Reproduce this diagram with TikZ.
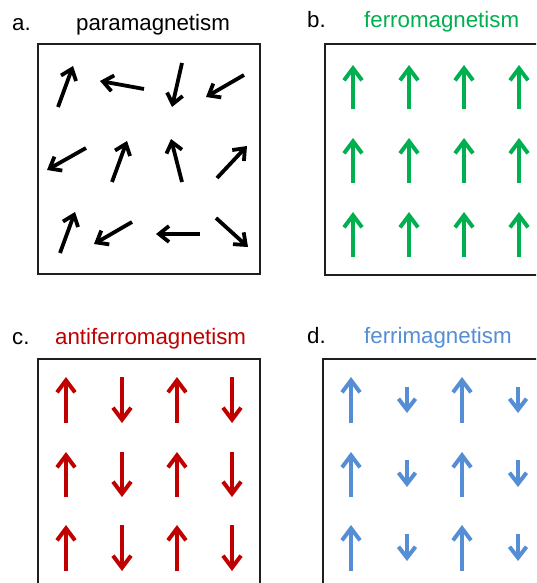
\documentclass[tikz,border=0pt]{standalone}
\usepackage{fontspec}
\setmainfont{Liberation Sans}
\usetikzlibrary{arrows.meta}
\definecolor{fgreen}{HTML}{00B050}
\definecolor{fred}{HTML}{C00000}
\definecolor{fblue}{HTML}{558ED5}
\tikzset{
  panelbox/.style={draw=black!88, line width=2pt},
  lbl/.style={anchor=base west, inner sep=0pt, font=\fontsize{22.3}{26}\selectfont},
  spin/.style={line width=3.8pt, -{Straight Barb[length=10pt,width=16pt]}},
  bigspin/.style={line width=4pt, -{Straight Barb[length=12pt,width=18pt]}},
  smallspin/.style={line width=4pt, -{Straight Barb[length=11pt,width=17pt]}},
}
\begin{document}
\begin{tikzpicture}[x=1pt,y=-1pt]
\clip (0,0) rectangle (536,583);
\fill[white] (0,0) rectangle (536,583);

% labels
\node[lbl] (la) at (12,31) {a.};
\node[lbl] (ta) at (76,31) {paramagnetism};
\node[lbl] (lb) at (307,28) {b.};
\node[lbl, text=fgreen] (tb) at (364,28) {ferromagnetism};
\node[lbl] (lc) at (12,344) {c.};
\node[lbl, text=fred] (tc) at (55,344) {antiferromagnetism};
\node[lbl] (ld) at (307,343) {d.};
\node[lbl, text=fblue] (td) at (364,343) {ferrimagnetism};

% boxes
\draw[panelbox] (38,44) rectangle (260,274);
\draw[panelbox] (325,44) rectangle (620,275);
\draw[panelbox] (38,359) rectangle (260,620);
\draw[panelbox] (323,359) rectangle (620,620);

% a. paramagnetism
\draw[spin] (58,107) -- (73,66);
\draw[spin] (144,89) -- (100,81);
\draw[spin] (182,63) -- (172,107);
\draw[spin] (244,75) -- (206,97);
\draw[spin] (86,148) -- (47,170);
\draw[spin] (112,182) -- (127,141);
\draw[spin] (182,182) -- (171,139);
\draw[spin] (217,178) -- (247,146);
\draw[spin] (60,253) -- (75,212);
\draw[spin] (132,222) -- (94,244);
\draw[spin] (200,234) -- (156,234);
\draw[spin] (216,218) -- (248,247);

% b. ferromagnetism
\foreach \x in {353,409,464,519}{
  \draw[bigspin, fgreen] (\x,109) -- (\x,65);
  \draw[bigspin, fgreen] (\x,183) -- (\x,138);
  \draw[bigspin, fgreen] (\x,257) -- (\x,212);
}

% c. antiferromagnetism
\foreach \y/\t in {377/423,452/497,525/571}{
  \draw[bigspin, fred] (66,\t) -- (66,\y);
  \draw[bigspin, fred] (122,\y) -- (122,\t);
  \draw[bigspin, fred] (177,\t) -- (177,\y);
  \draw[bigspin, fred] (232,\y) -- (232,\t);
}

% d. ferrimagnetism
\foreach \y/\t/\sa/\sb in {377/423/387/413,452/497/460/487,525/571/534/561}{
  \draw[bigspin, fblue] (351,\t) -- (351,\y);
  \draw[smallspin, fblue] (407,\sa) -- (407,\sb);
  \draw[bigspin, fblue] (462,\t) -- (462,\y);
  \draw[smallspin, fblue] (518,\sa) -- (518,\sb);
}
\end{tikzpicture}
\end{document}
